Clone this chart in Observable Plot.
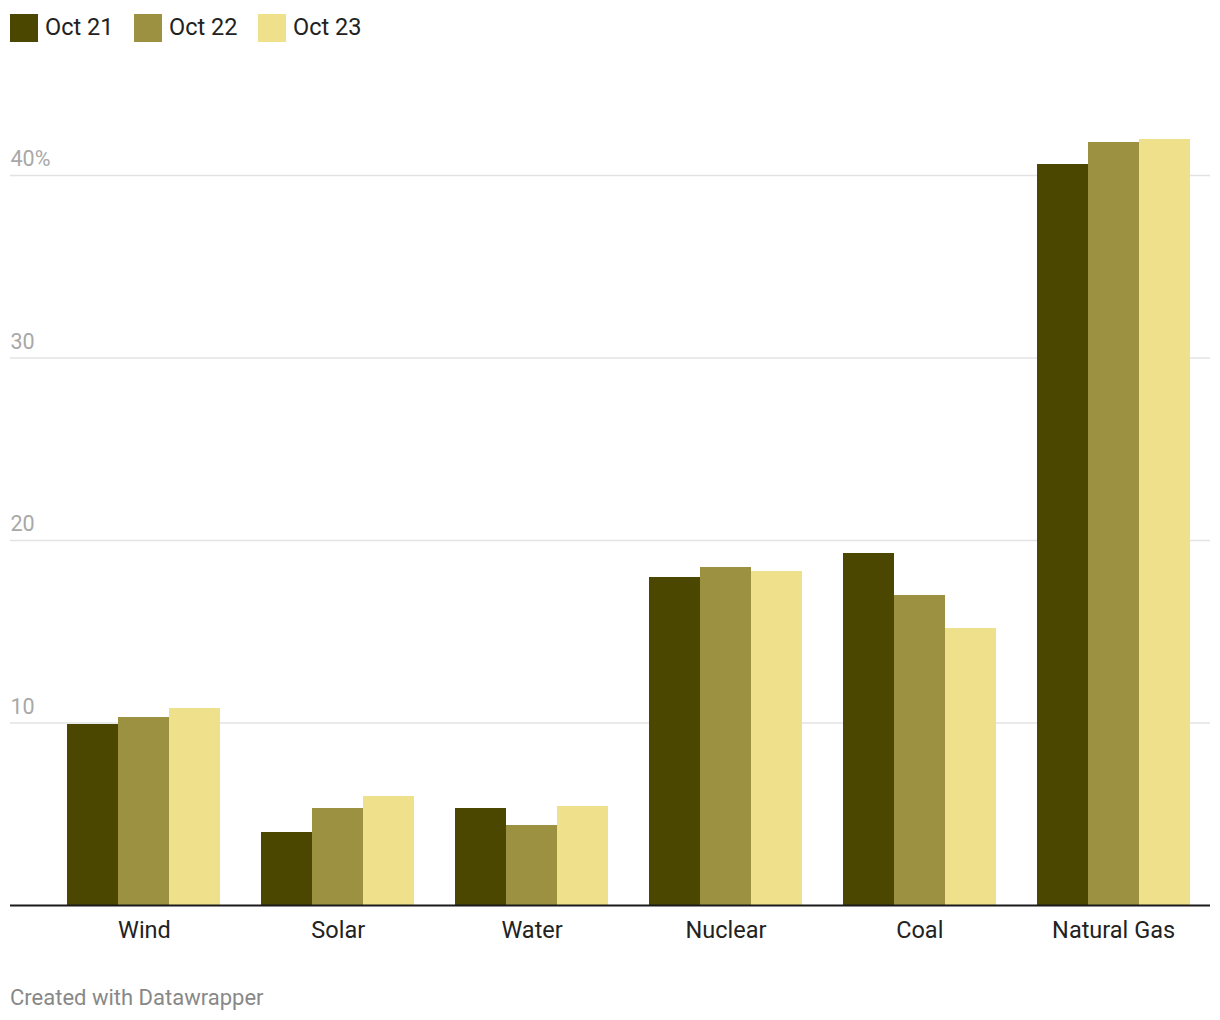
<!DOCTYPE html>
<html>
<head>
<meta charset="utf-8">
<script src="https://cdn.jsdelivr.net/npm/d3@7"></script>
<script src="https://cdn.jsdelivr.net/npm/@observablehq/plot@0.6"></script>
<style>
  body { margin: 0; background: #fff; font-family: Roboto, "Noto Sans", sans-serif; width: 1220px; height: 1020px; position: relative; overflow: hidden; }
  #legend { position: absolute; left: 10px; top: 14px; height: 28px; }
  .item { position: absolute; top: 0; display: flex; align-items: center; height: 28px; white-space: nowrap; }
  .sw { width: 28px; height: 28px; margin-right: 7px; }
  .lab { font-size: 23.5px; color: #222; line-height: 28px; margin-top: -3px; }
  #chart { position: absolute; left: 0; top: 60px; }
  #footer { position: absolute; left: 10px; top: 985px; font-size: 22px; color: #888; }
</style>
</head>
<body>
<div id="legend"></div>
<div id="chart"></div>
<div id="footer">Created with Datawrapper</div>
<script>
const categories = ["Wind", "Solar", "Water", "Nuclear", "Coal", "Natural Gas"];
const series = ["Oct 21", "Oct 22", "Oct 23"];
const oct21 = [9.9, 4.0, 5.3, 18.0, 19.3, 40.6];
const oct22 = [10.3, 5.3, 4.4, 18.5, 17.0, 41.8];
const oct23 = [10.8, 6.0, 5.4, 18.3, 15.2, 42.0];
const colors = ["#4b4700", "#9c9140", "#efe08c"];
const yTicks = [10, 20, 30, 40];
const yTickLabels = ["10", "20", "30", "40%"];

const values = [oct21, oct22, oct23];
const rows = [];
series.forEach((s, si) => categories.forEach((c, ci) => rows.push({category: c, series: s, value: values[si][ci]})));

// legend
const legend = document.getElementById("legend");
series.forEach((s, i) => {
  const it = document.createElement("div");
  it.className = "item";
  it.style.left = (i * 124) + "px";
  it.innerHTML = `<div class="sw" style="background:${colors[i]}"></div><span class="lab">${s}</span>`;
  legend.appendChild(it);
});

const W = 1220, H = 900;
const xRange = [47, 1210];
const pIn = 0.21, pOut = 0.105;
const step = (xRange[1] - xRange[0]) / (categories.length - pIn + 2 * pOut);
const bw = step * (1 - pIn);
const third = bw / 3;

const barMarks = series.map((s, i) => Plot.barY(rows.filter(d => d.series === s), {
  x: "category", y: "value", fill: "series",
  insetLeft: third * i, insetRight: third * (2 - i),
  shapeRendering: "crispEdges"
}));

const chart = Plot.plot({
  width: W,
  height: H,
  marginLeft: 10,
  marginRight: 10,
  marginTop: 115,
  marginBottom: 55,
  style: {fontFamily: "Roboto, 'Noto Sans', sans-serif", background: "#fff", overflow: "visible"},
  x: {domain: categories, range: xRange, paddingInner: pIn, paddingOuter: pOut, round: false, axis: null},
  y: {domain: [0, 40], axis: null},
  color: {domain: series, range: colors},
  marks: [
    Plot.ruleY(yTicks, {stroke: "#e3e3e3", strokeWidth: 1.5}),
    Plot.text(yTicks, {y: d => d, text: (d, i) => yTickLabels[i], frameAnchor: "left", textAnchor: "start", lineAnchor: "middle", dy: -16, fontSize: 21.5, fill: "#a8a8a8"}),
    ...barMarks,
    Plot.ruleY([0], {stroke: "#1a1a1a", strokeWidth: 2}),
    Plot.axisX({tickSize: 0, tickPadding: 16, fontSize: 23.5, fill: "#222", label: null})
  ]
});
document.getElementById("chart").appendChild(chart);
</script>
</body>
</html>
